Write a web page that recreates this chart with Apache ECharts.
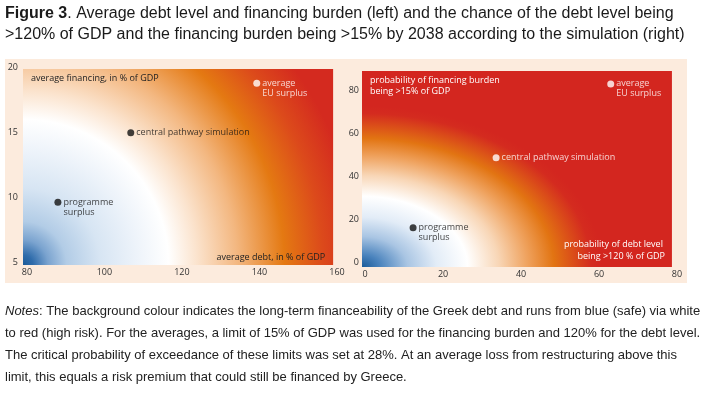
<!DOCTYPE html>
<html><head><meta charset="utf-8">
<script src="https://cdn.jsdelivr.net/npm/echarts@6/dist/echarts.min.js"></script>
<style>html,body{margin:0;padding:0;background:#fff}#c{width:713px;height:394px}</style>
</head><body><div id="c"></div>
<script>
// ---- Data: left panel (average debt vs. average financing, % of GDP)
const leftXTicks = [80, 100, 120, 140, 160];
const leftYTicks = [5, 10, 15, 20];
const leftNames = ['programme\nsurplus', 'central pathway simulation', 'average\nEU surplus'];
const leftDebt = [88.0, 106.8, 139.3];
const leftFinancing = [9.6, 14.95, 18.75];

// ---- Data: right panel (probabilities, %)
const rightXTicks = [0, 20, 40, 60, 80];
const rightYTicks = [0, 20, 40, 60, 80];
const rightNames = ['programme\nsurplus', 'central pathway simulation', 'average\nEU surplus'];
const rightDebtProb = [12.3, 33.6, 63.0];
const rightFinProb = [16.0, 48.5, 82.8];

// ---- Styles
const leftDotColors = ['#111111', '#111111', '#ffffff'];
const rightDotColors = ['#111111', '#ffffff', '#ffffff'];
const FONT = 'Open Sans';

const chart = echarts.init(document.getElementById('c'), null, {renderer: 'canvas'});

function pts(xs, ys, names, colors) {
  return xs.map((x, i) => {
    const two = names[i].indexOf('\n') >= 0;
    return {
      value: [x, ys[i]],
      name: names[i],
      itemStyle: {color: colors[i]},
      label: {
        show: true, position: 'right', distance: 2,
        formatter: '{b}', color: colors[i],
        fontFamily: FONT, fontSize: 9, lineHeight: 10,
        verticalAlign: two ? 'top' : 'middle',
        offset: two ? [0, -5] : [0, 0]
      }
    };
  });
}

const axisCommon = {
  axisLine: {show: false}, axisTick: {show: false}, splitLine: {show: false}
};

const option = {
  animation: false,
  title: [
    {
      left: 5, top: 3, padding: 0,
      text: '{b|Figure 3}. Average debt level and financing burden (left) and the chance of the debt level being\n>120% of GDP and the financing burden being >15% by 2038 according to the simulation (right)',
      textStyle: {
        fontFamily: 'Liberation Sans', fontSize: 16, fontWeight: 'normal', color: '#1a1a1a', lineHeight: 21,
        rich: {b: {fontFamily: 'Liberation Sans', fontSize: 16, fontWeight: 'bold', color: '#1a1a1a', lineHeight: 21}}
      }
    },
    {
      left: 5, top: 301, padding: 0,
      text: '{i|Notes}: The background colour indicates the long-term financeability of the Greek debt and runs from blue (safe) via white\nto red (high risk). For the averages, a limit of 15% of GDP was used for the financing burden and 120% for the debt level.\nThe critical probability of exceedance of these limits was set at 28%. At an average loss from restructuring above this\nlimit, this equals a risk premium that could still be financed by Greece.',
      textStyle: {
        fontFamily: 'Liberation Sans', fontSize: 13, fontWeight: 'normal', color: '#222', lineHeight: 21.7,
        rich: {i: {fontFamily: 'Liberation Sans', fontSize: 13, fontStyle: 'italic', color: '#222', lineHeight: 21.7}}
      }
    }
  ],
  grid: [
    {left: 23, top: 67, width: 314, height: 198},
    {left: 362, top: 71, width: 315, height: 196}
  ],
  xAxis: [
    Object.assign({gridIndex: 0, type: 'value', min: 79, max: 160,
      axisLabel: {customValues: leftXTicks, margin: 3, color: '#333', fontFamily: FONT, fontSize: 9}}, axisCommon),
    Object.assign({gridIndex: 1, type: 'value', min: -0.8, max: 80,
      axisLabel: {customValues: rightXTicks, margin: 3, color: '#333', fontFamily: FONT, fontSize: 9}}, axisCommon)
  ],
  yAxis: [
    Object.assign({gridIndex: 0, type: 'value', min: 4.77, max: 20,
      axisLabel: {customValues: leftYTicks, margin: 5, color: '#333', fontFamily: FONT, fontSize: 9}}, axisCommon),
    Object.assign({gridIndex: 1, type: 'value', min: -2.2, max: 88.8,
      axisLabel: {customValues: rightYTicks, margin: 3, color: '#333', fontFamily: FONT, fontSize: 9}}, axisCommon)
  ],
  series: [
    {type: 'scatter', xAxisIndex: 0, yAxisIndex: 0, symbolSize: 7, z: 5,
      data: pts(leftDebt, leftFinancing, leftNames, leftDotColors)},
    {type: 'scatter', xAxisIndex: 1, yAxisIndex: 1, symbolSize: 7, z: 5,
      data: pts(rightDebtProb, rightFinProb, rightNames, rightDotColors)}
  ]
};
chart.setOption(option);

// Background panels derived from the axes' own scales
const lBL = chart.convertToPixel({gridIndex: 0}, [79, 4.77]);
const lTR = chart.convertToPixel({gridIndex: 0}, [159, 19.85]);
const rBL = chart.convertToPixel({gridIndex: 1}, [-0.8, -2.2]);
const rTR = chart.convertToPixel({gridIndex: 1}, [78.7, 88.8]);

const lW = lTR[0] - lBL[0], lH = lBL[1] - lTR[1];
const rW = rTR[0] - rBL[0], rH = rBL[1] - rTR[1];
const rSy = 0.67;

const leftStops = [
  {offset: 0, color: '#1a5a98'},
  {offset: 0.03, color: '#2f6cab'},
  {offset: 0.075, color: '#7aa3cf'},
  {offset: 0.13, color: '#b2cce6'},
  {offset: 0.23, color: '#d7e5f3'},
  {offset: 0.34, color: '#edf3fa'},
  {offset: 0.435, color: '#ffffff'},
  {offset: 0.52, color: '#fbe3cd'},
  {offset: 0.64, color: '#f3b780'},
  {offset: 0.78, color: '#e47912'},
  {offset: 0.895, color: '#dc4a1b'},
  {offset: 1, color: '#d42a1f'}
];
const rightStops = [
  {offset: 0, color: '#1a5a98'},
  {offset: 0.075, color: '#4a83bd'},
  {offset: 0.19, color: '#a9c5e3'},
  {offset: 0.31, color: '#e2ecf7'},
  {offset: 0.44, color: '#ffffff'},
  {offset: 0.57, color: '#f8d6b6'},
  {offset: 0.69, color: '#efa25e'},
  {offset: 0.80, color: '#e27412'},
  {offset: 0.955, color: '#d42b1f'},
  {offset: 1, color: '#d3261f'}
];

function txt(x, y, text, color, align) {
  return {type: 'text', x: x, y: y, z: 3,
    style: {text: text, fill: color, fontFamily: FONT, fontSize: 9, textAlign: align || 'left', textVerticalAlign: 'middle'}};
}

chart.setOption({
  graphic: [
    {type: 'rect', z: -10, shape: {x: 5, y: 59, width: 682, height: 224}, style: {fill: '#fcebdd'}},
    {type: 'rect', z: -5, x: lBL[0], y: lBL[1],
      shape: {x: 0, y: -lH, width: lW, height: lH},
      style: {fill: {type: 'radial', x: 0, y: 0, r: 335, global: true, colorStops: leftStops}}},
    {type: 'rect', z: -5, x: rBL[0], y: rBL[1], scaleY: rSy,
      shape: {x: 0, y: -rH / rSy, width: rW, height: rH / rSy},
      style: {fill: {type: 'radial', x: 0, y: 0, r: 240, global: true, colorStops: rightStops}}},
    txt(lBL[0] + 8, lTR[1] + 9, 'average financing, in % of GDP', '#222'),
    txt(lTR[0] - 8, lBL[1] - 8, 'average debt, in % of GDP', '#222', 'right'),
    txt(rBL[0] + 8, rTR[1] + 9, 'probability of financing burden', '#fff'),
    txt(rBL[0] + 8, rTR[1] + 20.5, 'being >15% of GDP', '#fff'),
    txt(rTR[0] - 9, rBL[1] - 22.5, 'probability of debt level', '#fff', 'right'),
    txt(rTR[0] - 7, rBL[1] - 11, 'being >120 % of GDP', '#fff', 'right')
  ]
});
</script>
</body></html>
